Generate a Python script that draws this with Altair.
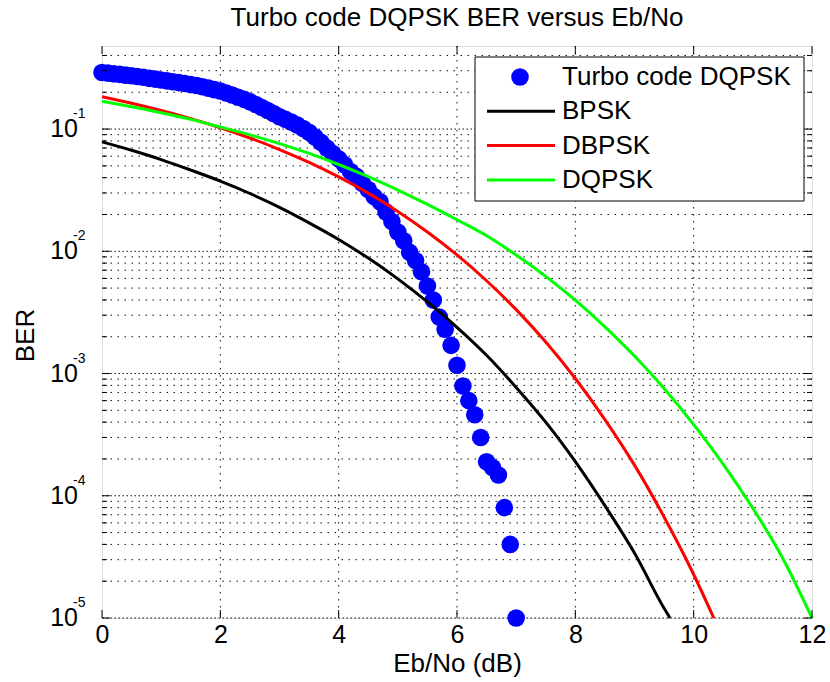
import altair as alt
import pandas as pd

# ---------------- data ----------------
title_text = "Turbo code DQPSK BER versus Eb/No"
x_title = "Eb/No (dB)"
y_title = "BER"

series_names = ["Turbo code DQPSK", "BPSK", "DBPSK", "DQPSK"]
series_colors = ["#0000FF", "#000000", "#FF0000", "#00FF00"]

x_ticks = [0, 2, 4, 6, 8, 10, 12]
y_decades = [1e-5, 1e-4, 1e-3, 1e-2, 1e-1]
y_decade_exp = ["-5", "-4", "-3", "-2", "-1"]

turbo_ebno = [0.0, 0.1, 0.2, 0.3, 0.4, 0.5, 0.6, 0.7, 0.8, 0.9,
              1.0, 1.1, 1.2, 1.3, 1.4, 1.5, 1.6, 1.7, 1.8, 1.9,
              2.0, 2.1, 2.2, 2.3, 2.4, 2.5, 2.6, 2.7, 2.8, 2.9,
              3.0, 3.1, 3.2, 3.3, 3.4, 3.5, 3.6, 3.7, 3.8, 3.9,
              4.0, 4.1, 4.2, 4.3, 4.4, 4.5, 4.6, 4.7, 4.8, 4.9,
              5.0, 5.1, 5.2, 5.3, 5.4, 5.5, 5.6, 5.7, 5.8, 5.9,
              6.0, 6.1, 6.2, 6.3, 6.4, 6.5, 6.6, 6.7, 6.8, 6.9, 7.0]
turbo_ber = [0.290, 0.287, 0.283, 0.280, 0.276, 0.273, 0.269, 0.265, 0.260, 0.256,
             0.252, 0.248, 0.244, 0.240, 0.236, 0.231, 0.227, 0.222, 0.216, 0.210,
             0.205, 0.197, 0.190, 0.182, 0.175, 0.167, 0.159, 0.150, 0.142, 0.134,
             0.126, 0.120, 0.114, 0.108, 0.101, 0.094, 0.086, 0.078, 0.070, 0.063,
             0.057, 0.051, 0.045, 0.041, 0.036, 0.032, 0.028, 0.0254, 0.021, 0.0175,
             0.0144, 0.0122, 0.0098, 0.0084, 0.0068, 0.0052, 0.0040, 0.0029, 0.0023, 0.0017,
             0.00117, 0.00079, 0.00060, 0.00046, 0.00030, 0.00019, 0.00017, 0.000148,
             0.00008, 0.00004, 0.00001]

bpsk_ebno = [0.0, 0.5, 1.0, 1.5, 2.0, 2.5, 3.0, 3.5, 4.0, 4.5, 5.0, 5.5, 6.0,
             6.5, 7.0, 7.5, 8.0, 8.5, 9.0, 9.5, 9.6]
bpsk_ber = [0.0786, 0.0671, 0.0563, 0.0462, 0.0375, 0.0297, 0.0229, 0.0171, 0.0125,
            0.0088, 0.00595, 0.00385, 0.00239, 0.00141, 0.00077, 0.00040, 0.00019,
            0.000083, 0.000034, 0.000012, 0.00001]

dbpsk_ebno = [0.0, 0.5, 1.0, 1.5, 2.0, 2.5, 3.0, 3.5, 4.0, 4.5, 5.0, 5.5, 6.0,
              6.5, 7.0, 7.5, 8.0, 8.5, 9.0, 9.5, 10.0, 10.34]
dbpsk_ber = [0.184, 0.1628, 0.142, 0.1217, 0.1025, 0.0845, 0.0680, 0.0533, 0.0406,
             0.0299, 0.0212, 0.0144, 0.00934, 0.00574, 0.00333, 0.00181, 0.00091,
             0.00042, 0.000178, 0.000067, 0.0000227, 0.00001]

dqpsk_ebno = [0.0, 0.5, 1.0, 1.5, 2.0, 2.5, 3.0, 3.5, 4.0, 4.5, 5.0, 5.5, 6.0,
              6.5, 7.0, 7.5, 8.0, 8.5, 9.0, 9.5, 10.0, 10.5, 11.0, 11.5, 12.0]
dqpsk_ber = [0.169, 0.152, 0.136, 0.120, 0.104, 0.0897, 0.0760, 0.0632, 0.0513, 0.0408,
             0.0317, 0.0242, 0.0181, 0.0134, 0.00933, 0.00624, 0.00398, 0.00241, 0.00139,
             0.000754, 0.000382, 0.000181, 0.000079, 0.0000311, 0.00001]

# ---------------- layout ----------------
W, H = 710, 572
FONT = "Liberation Sans"
xs = alt.Scale(domain=[0, 12], nice=False, zero=False)
ys = alt.Scale(type="log", domain=[1e-5, 0.478], nice=False)

x_axis = alt.Axis(values=x_ticks, format="d", ticks=False, domain=False, grid=False,
                  labelFontSize=25, labelFont=FONT, labelColor="black", labelPadding=4,
                  labelFlush=False, labelOverlap=False, title=x_title, titleFont=FONT,
                  titleFontSize=26, titleFontWeight="normal", titleColor="black",
                  titleY=32, titleBaseline="top")
y_axis = alt.Axis(labels=False, ticks=False, domain=False, grid=False,
                  title=y_title, titleFont=FONT, titleFontSize=26,
                  titleFontWeight="normal", titleColor="black",
                  titleX=-77, titleY=289, titleBaseline="middle", titleAngle=270)

one = pd.DataFrame({"k": [0]})

x_grid = pd.DataFrame({"v": [t for t in x_ticks if 0 < t < 12]})
y_minor_vals = [k * d for d in y_decades for k in range(2, 10) if k * d <= 0.478]
y_minor = pd.DataFrame({"v": y_minor_vals})
y_major = pd.DataFrame({"v": y_decades, "e": y_decade_exp})
x_tk = pd.DataFrame({"v": x_ticks})


def X(f):
    return alt.X(f, scale=xs, axis=x_axis, title=x_title)


def Y(f):
    return alt.Y(f, scale=ys, axis=y_axis, title=y_title)


layers = []

# grid
layers.append(alt.Chart(x_grid).mark_rule(color="#111", strokeWidth=1, strokeDash=[1.5, 5.5])
              .encode(x=X("v:Q")))
layers.append(alt.Chart(y_minor).mark_rule(color="#111", strokeWidth=1, strokeDash=[1.5, 5.5])
              .encode(y=Y("v:Q")))
layers.append(alt.Chart(y_major).mark_rule(color="#111", strokeWidth=1, strokeDash=[1.5, 2.5])
              .encode(y=Y("v:Q")))

# turbo markers (drawn first, lines on top)
turbo_df = pd.DataFrame({"x": turbo_ebno, "y": turbo_ber})
layers.append(alt.Chart(turbo_df).mark_point(filled=True, shape="circle", size=310,
                                             color=series_colors[0], opacity=1)
              .encode(x=X("x:Q"), y=Y("y:Q")))

for xe, ye, col in [(bpsk_ebno, bpsk_ber, series_colors[1]),
                    (dbpsk_ebno, dbpsk_ber, series_colors[2]),
                    (dqpsk_ebno, dqpsk_ber, series_colors[3])]:
    d = pd.DataFrame({"x": xe, "y": ye})
    layers.append(alt.Chart(d).mark_line(color=col, strokeWidth=3, interpolate="monotone")
                  .encode(x=X("x:Q"), y=Y("y:Q")))

# inward ticks (box on all sides)
layers.append(alt.Chart(x_tk).mark_rule(color="black", strokeWidth=1)
              .encode(x=X("v:Q"), y=alt.value(H), y2=alt.value(H - 8)))
layers.append(alt.Chart(x_tk).mark_rule(color="black", strokeWidth=1)
              .encode(x=X("v:Q"), y=alt.value(0), y2=alt.value(8)))
layers.append(alt.Chart(y_major).mark_rule(color="black", strokeWidth=1)
              .encode(y=Y("v:Q"), x=alt.value(0), x2=alt.value(8)))
layers.append(alt.Chart(y_major).mark_rule(color="black", strokeWidth=1)
              .encode(y=Y("v:Q"), x=alt.value(W - 8), x2=alt.value(W)))
layers.append(alt.Chart(y_minor).mark_rule(color="black", strokeWidth=1)
              .encode(y=Y("v:Q"), x=alt.value(0), x2=alt.value(5)))
layers.append(alt.Chart(y_minor).mark_rule(color="black", strokeWidth=1)
              .encode(y=Y("v:Q"), x=alt.value(W - 5), x2=alt.value(W)))

# y tick labels 10^n
layers.append(alt.Chart(y_major).mark_text(align="right", baseline="middle", fontSize=25,
                                           font=FONT, color="black")
              .encode(y=Y("v:Q"), x=alt.value(-24), text=alt.value("10")))
layers.append(alt.Chart(y_major).mark_text(align="left", baseline="middle", fontSize=14,
                                           font=FONT, color="black", dy=-15)
              .encode(y=Y("v:Q"), x=alt.value(-29), text="e:N"))

# legend
LX0, LX1, LY0, LY1 = 373, 702, 11, 155
layers.append(alt.Chart(one).mark_rect(fill="white", stroke="black", strokeWidth=1)
              .encode(x=alt.value(LX0), x2=alt.value(LX1), y=alt.value(LY0), y2=alt.value(LY1)))
for i, (name, col) in enumerate(zip(series_names, series_colors)):
    ry = 31 + 34.3 * i
    if i == 0:
        layers.append(alt.Chart(one).mark_point(filled=True, shape="circle", size=310,
                                                color=col, opacity=1)
                      .encode(x=alt.value(418), y=alt.value(ry)))
    else:
        layers.append(alt.Chart(one).mark_rule(color=col, strokeWidth=3)
                      .encode(x=alt.value(385), x2=alt.value(453), y=alt.value(ry)))
    layers.append(alt.Chart(one).mark_text(align="left", baseline="middle", fontSize=26,
                                           font=FONT, color="black")
                  .encode(x=alt.value(460), y=alt.value(ry), text=alt.value(name)))

# title
layers.append(alt.Chart(one).mark_text(align="center", baseline="alphabetic", fontSize=26,
                                       font=FONT, color="black")
              .encode(x=alt.value(W / 2), y=alt.value(-20), text=alt.value(title_text)))

chart = alt.layer(*layers).properties(
    width=W, height=H,
    autosize=alt.AutoSizeParams(type="none"),
    padding={"left": 102, "top": 46, "right": 18, "bottom": 64},
).configure_view(stroke="black", strokeWidth=1).configure(background="white")

chart.save("out.html", embed_options={"renderer": "svg", "actions": False})
